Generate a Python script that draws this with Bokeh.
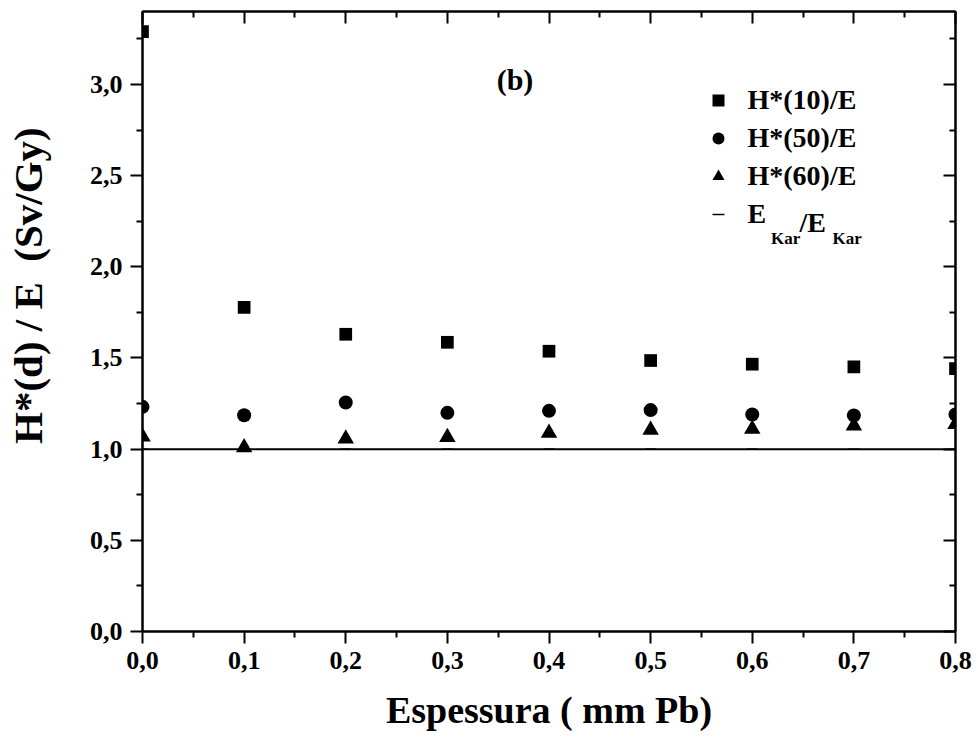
from bokeh.plotting import figure
from bokeh.models import Range1d, FixedTicker, LinearAxis, Legend, LegendItem, Label
from bokeh.embed import file_html
from bokeh.resources import INLINE

# ---- data ----
thickness = [0.0, 0.1, 0.2, 0.3, 0.4, 0.5, 0.6, 0.7, 0.8]
h10_over_e = [3.29, 1.778, 1.630, 1.586, 1.537, 1.486, 1.466, 1.451, 1.442]
h50_over_e = [1.232, 1.186, 1.256, 1.199, 1.210, 1.214, 1.190, 1.185, 1.190]
h60_over_e = [1.068, 1.009, 1.057, 1.065, 1.089, 1.105, 1.111, 1.129, 1.137]
ekar_ratio = [1.0, 1.0, 1.0, 1.0, 1.0, 1.0, 1.0, 1.0, 1.0]

series_names = ["H*(10)/E", "H*(50)/E", "H*(60)/E", "E"]

x_ticks = [0.0, 0.1, 0.2, 0.3, 0.4, 0.5, 0.6, 0.7, 0.8]
x_tick_labels = ["0,0", "0,1", "0,2", "0,3", "0,4", "0,5", "0,6", "0,7", "0,8"]
x_minor_ticks = [0.05, 0.15, 0.25, 0.35, 0.45, 0.55, 0.65, 0.75]
y_ticks = [0.0, 0.5, 1.0, 1.5, 2.0, 2.5, 3.0]
y_tick_labels = ["0,0", "0,5", "1,0", "1,5", "2,0", "2,5", "3,0"]
y_minor_ticks = [0.25, 0.75, 1.25, 1.75, 2.25, 2.75, 3.25]

FONT = "Liberation Serif"
NB = "\u00a0"

p = figure(width=978, height=740,
           x_range=Range1d(0, 0.8), y_range=Range1d(0, 3.4),
           output_backend="svg", toolbar_location=None,
           min_border_left=142, min_border_right=23,
           min_border_top=11, min_border_bottom=109)
p.xgrid.visible = False
p.ygrid.visible = False
p.outline_line_color = "black"
p.outline_line_width = 2
p.background_fill_color = "white"
p.border_fill_color = "white"

xticker = FixedTicker(ticks=x_ticks, minor_ticks=x_minor_ticks)
yticker = FixedTicker(ticks=y_ticks, minor_ticks=y_minor_ticks)


def style_axis(ax, inward):
    ax.axis_line_width = 2
    ax.major_tick_line_width = 2
    ax.minor_tick_line_width = 2
    if inward:
        ax.major_tick_in, ax.major_tick_out = 12, 0
        ax.minor_tick_in, ax.minor_tick_out = 6, 0
        ax.major_label_text_font_size = "0px"
        ax.major_label_text_color = None
        ax.major_label_standoff = 0
    else:
        ax.major_tick_in, ax.major_tick_out = 0, 12
        ax.minor_tick_in, ax.minor_tick_out = 0, 6
        ax.major_label_text_font = FONT
        ax.major_label_text_font_style = "bold"
        ax.major_label_text_font_size = "26px"
        ax.major_label_text_color = "black"
        ax.axis_label_text_font = FONT
        ax.axis_label_text_font_style = "bold"
        ax.axis_label_text_font_size = "38px"
        ax.axis_label_text_color = "black"


xa = p.xaxis[0]
xa.ticker = xticker
xa.major_label_overrides = dict(zip(x_ticks, x_tick_labels))
style_axis(xa, False)
xa.axis_label = "Espessura ( mm Pb)"
xa.major_label_standoff = 8
xa.axis_label_standoff = 17

ya = p.yaxis[0]
ya.ticker = yticker
ya.major_label_overrides = dict(zip(y_ticks, y_tick_labels))
style_axis(ya, False)
ya.axis_label = NB * 7 + "H*(d) / E " + NB + "(Sv/Gy)"
ya.axis_label_text_font_size = "41px"
ya.major_label_standoff = 8
ya.axis_label_standoff = 36

top_ax = LinearAxis(ticker=xticker)
style_axis(top_ax, True)
p.add_layout(top_ax, "above")
right_ax = LinearAxis(ticker=yticker)
style_axis(right_ax, True)
p.add_layout(right_ax, "right")

# reference line E_Kar/E_Kar
p.line(thickness, ekar_ratio, line_color="black", line_width=2)
r_da = p.scatter(thickness, ekar_ratio, marker="dash", size=11,
                 line_color="black", line_width=1.5)

r_sq = p.scatter(thickness, h10_over_e, marker="square", size=12.7,
                 fill_color="black", line_color=None)
r_ci = p.scatter(thickness, h50_over_e, marker="circle", size=14,
                 fill_color="black", line_color=None)
r_tr = p.scatter(thickness, h60_over_e, marker="triangle", size=16.5,
                 fill_color="black", line_color=None)

legend = Legend(items=[
    LegendItem(label=series_names[0], renderers=[r_sq]),
    LegendItem(label=series_names[1], renderers=[r_ci]),
    LegendItem(label=series_names[2], renderers=[r_tr]),
    LegendItem(label=series_names[3], renderers=[r_da]),
], location=(560.5, 398), glyph_width=30, glyph_height=38, label_height=38,
    spacing=0, padding=0, margin=0, label_standoff=15,
    border_line_color=None, background_fill_alpha=0,
    label_text_font=FONT, label_text_font_style="bold",
    label_text_font_size="28px", label_text_color="black")
p.add_layout(legend)

# subscripts for E_Kar / E_Kar legend entry
sub_kw = dict(x_units="screen", y_units="screen", text_font=FONT,
              text_font_style="bold", text_color="black",
              text_baseline="alphabetic", text_align="left")
p.add_layout(Label(x=628.5, y=393, text="Kar", text_font_size="17px", **sub_kw))
p.add_layout(Label(x=657, y=409.5, text="/E", text_font_size="28px", **sub_kw))
p.add_layout(Label(x=690, y=393, text="Kar", text_font_size="17px", **sub_kw))

# panel label
p.add_layout(Label(x=372.5, y=552.5, text="(b)", x_units="screen", y_units="screen",
                   text_font=FONT, text_font_style="bold", text_font_size="30px",
                   text_align="center", text_baseline="middle", text_color="black"))

open("out.html", "w").write(file_html(p, INLINE))
